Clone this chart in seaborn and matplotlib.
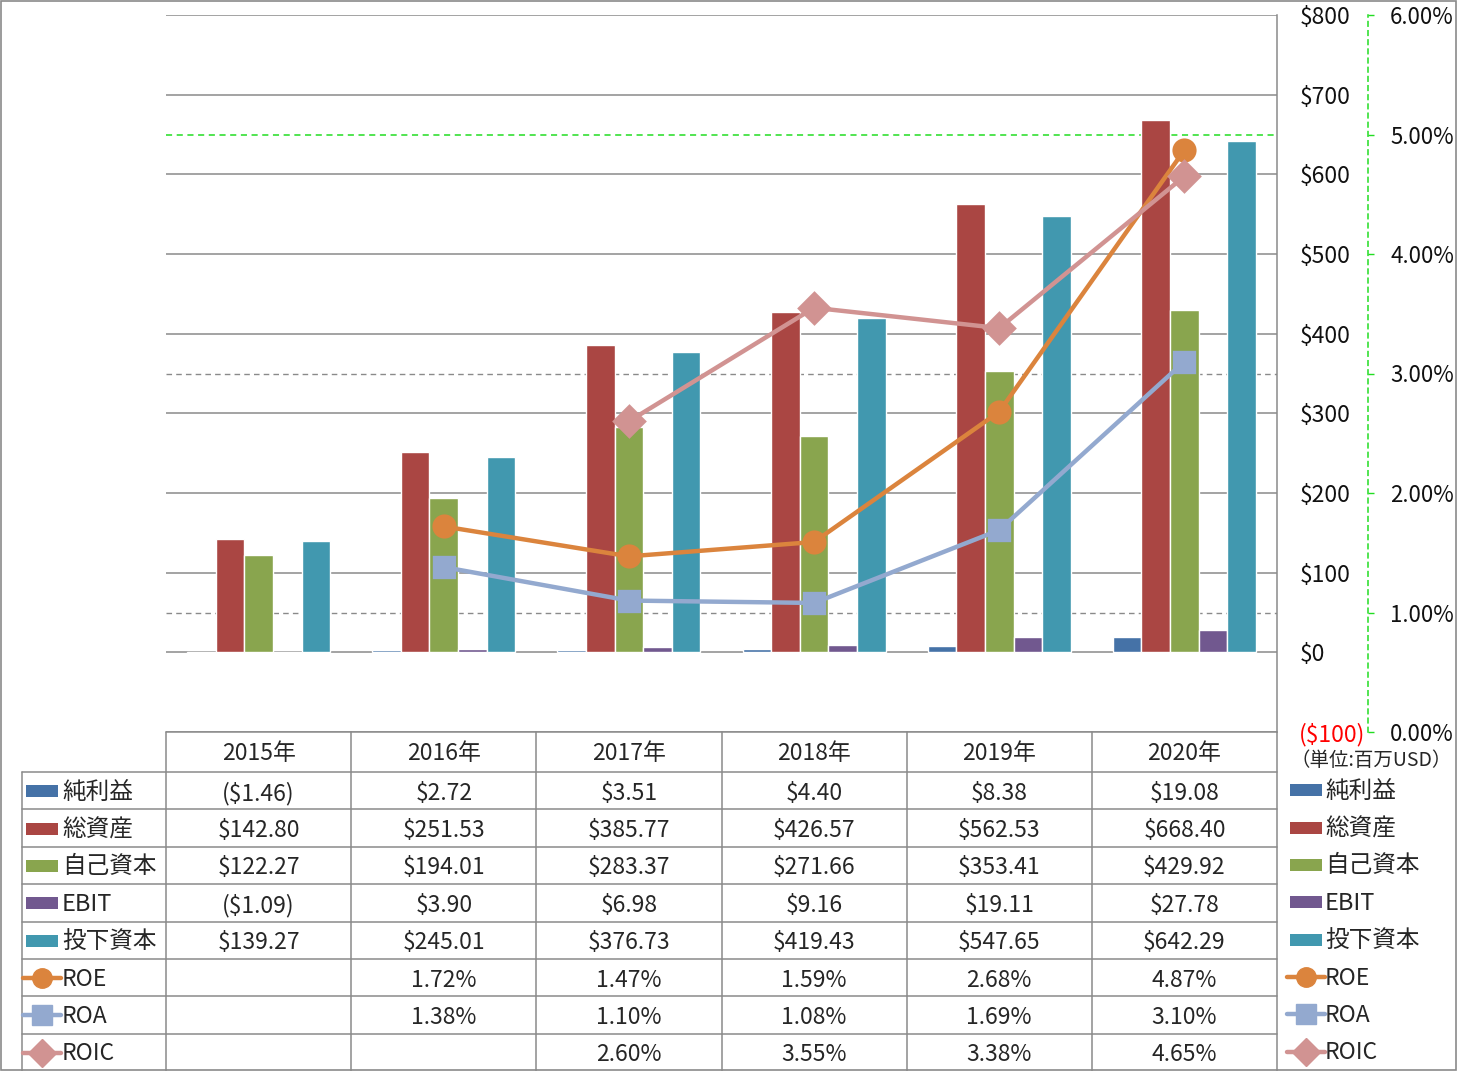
import numpy as np
import pandas as pd
import matplotlib
matplotlib.use("Agg")
import matplotlib.pyplot as plt
from matplotlib.patches import Rectangle
from matplotlib.lines import Line2D
import seaborn as sns

# ---------------- data ----------------
years = ["2015年", "2016年", "2017年", "2018年", "2019年", "2020年"]
bar_series = ["純利益", "総資産", "自己資本", "EBIT", "投下資本"]
net_income = [-1.46, 2.72, 3.51, 4.40, 8.38, 19.08]
total_assets = [142.80, 251.53, 385.77, 426.57, 562.53, 668.40]
equity = [122.27, 194.01, 283.37, 271.66, 353.41, 429.92]
ebit = [-1.09, 3.90, 6.98, 9.16, 19.11, 27.78]
invested_capital = [139.27, 245.01, 376.73, 419.43, 547.65, 642.29]

line_series = ["ROE", "ROA", "ROIC"]
roe = [np.nan, 1.72, 1.47, 1.59, 2.68, 4.87]
roa = [np.nan, 1.38, 1.10, 1.08, 1.69, 3.10]
roic = [np.nan, np.nan, 2.60, 3.55, 3.38, 4.65]

left_ticks = [-100, 0, 100, 200, 300, 400, 500, 600, 700, 800]
right_ticks = [0, 1, 2, 3, 4, 5, 6]
dashed_pct_lines = [1, 3]
target_pct_line = 5
unit_label = "（単位:百万USD）"

bar_colors = ["#4572A7", "#AA4643", "#89A54E", "#71588F", "#4198AF"]
line_colors = ["#DB843D", "#93A9CF", "#D19392"]
line_markers = ["o", "s", "D"]
marker_sizes = [15, 15, 15]

# ---------------- setup ----------------
sns.set_theme(style="white")
plt.rcParams["font.family"] = ["Noto Sans CJK JP", "DejaVu Sans"]
plt.rcParams["font.size"] = 16

NUM_FS = 16.5
JP_FS = 17

W, H = 1457, 1071
fig = plt.figure(figsize=(W / 100, H / 100), dpi=100)
fig.patch.set_facecolor("white")

plot_left, plot_right, plot_top, plot_bottom = 166, 1277, 15, 732
ax = fig.add_axes([plot_left / W, (H - plot_bottom) / H,
                   (plot_right - plot_left) / W, (plot_bottom - plot_top) / H])

bar_values = [net_income, total_assets, equity, ebit, invested_capital]
df_bars = pd.DataFrame({
    "year": [y for s in bar_series for y in years],
    "series": [s for s in bar_series for _ in years],
    "value": [v for vals in bar_values for v in vals],
})

sns.barplot(data=df_bars, x="year", y="value", hue="series", order=years,
            hue_order=bar_series, palette=bar_colors, width=0.773, gap=0,
            saturation=1, errorbar=None, legend=False, ax=ax, zorder=2)

ymin, ymax = left_ticks[0], left_ticks[-1]
pmin, pmax = right_ticks[0], right_ticks[-1]
ax.set_ylim(ymin, ymax)
ax.set_xlim(-0.5, len(years) - 0.5)


def pct_to_left(p):
    return ymin + (p - pmin) / (pmax - pmin) * (ymax - ymin)


grid_gray = "#8A8A8A"
green = "#22DD22"
for t in left_ticks:
    ax.axhline(t, color=grid_gray, lw=1.1, zorder=0.5)
for p in dashed_pct_lines:
    ax.axhline(pct_to_left(p), color=grid_gray, lw=1, ls=(0, (4, 3)), zorder=0.5)
ax.axhline(pct_to_left(target_pct_line), color=green, lw=1.1, ls=(0, (4, 3)), zorder=0.5)

ax.set_xticks([])
ax.set_xlabel("")
ax.set_ylabel("")
ax.patch.set_alpha(0)
ax.grid(False)

# secondary axis
ax2 = ax.twinx()
line_values = [roe, roa, roic]
for name, vals, col, mk, ms in zip(line_series, line_values, line_colors, line_markers, marker_sizes):
    d = pd.DataFrame({"year": years, "value": vals}).dropna()
    sns.pointplot(data=d, x="year", y="value", order=years, color=col,
                  marker=mk, markersize=ms, linewidth=3.2, errorbar=None,
                  ax=ax2, zorder=5)
ax2.set_ylim(pmin, pmax)
ax2.set_xlim(-0.5, len(years) - 0.5)
ax2.set_yticks(right_ticks)
ax2.set_yticklabels([f"{p:.2f}%" for p in right_ticks])
ax2.tick_params(axis="y", length=4, width=1, color=green, pad=12, labelsize=16,
                labelcolor="#111111", direction="out")
ax2.set_xticks([])
ax2.set_xlabel("")
ax2.set_ylabel("")
for s in ["left", "top", "bottom"]:
    ax2.spines[s].set_visible(False)
ax2.spines["right"].set_position(("outward", 65.5))
ax2.spines["right"].set_color(green)
ax2.spines["right"].set_linestyle((0, (3, 3)))
ax2.spines["right"].set_linewidth(1.1)
ax2.grid(False)

# primary axis labels on the right (after twinx, which resets to left)
ax.yaxis.tick_right()
ax.yaxis.set_label_position("right")
ax.set_yticks(left_ticks)
ax.set_yticklabels([f"${t:,}" if t >= 0 else f"(${-t:,})" for t in left_ticks])
ax.tick_params(axis="y", which="both", left=False, right=False, labelleft=False,
               labelright=True, length=0, pad=16, labelsize=NUM_FS, labelcolor="#111111")
for lbl, t in zip(ax.get_yticklabels(), left_ticks):
    if t < 0:
        lbl.set_color("#FF0000")
for s in ["left", "top", "bottom"]:
    ax.spines[s].set_visible(False)
ax.spines["right"].set_visible(True)
ax.spines["right"].set_color(grid_gray)
ax.spines["right"].set_linewidth(1.1)

# ---------------- table + legends (overlay in pixel coords) ----------------
tab = fig.add_axes([0, 0, 1, 1], zorder=10)
tab.set_xlim(0, W)
tab.set_ylim(H, 0)
tab.axis("off")
tab.patch.set_alpha(0)

tcol = "#8A8A8A"
col_edges = np.linspace(plot_left, plot_right, len(years) + 1)
label_left = 22
head_top, head_bot = plot_bottom, 772
n_rows = len(bar_series) + len(line_series)
row_edges = np.linspace(head_bot, H, n_rows + 1)
row_centers = (row_edges[:-1] + row_edges[1:]) / 2

tab.plot([plot_left, plot_right], [head_top, head_top], color=tcol, lw=1.1)
for y in row_edges[:-1]:
    tab.plot([label_left, plot_right], [y, y], color=tcol, lw=1.1)
tab.plot([label_left, label_left], [head_bot, H], color=tcol, lw=1.1)
for x in col_edges:
    tab.plot([x, x], [head_top, H], color=tcol, lw=1.1)

col_centers = (col_edges[:-1] + col_edges[1:]) / 2
for xc, yr in zip(col_centers, years):
    tab.text(xc, (head_top + head_bot) / 2 + 2, yr, ha="center", va="center", fontsize=NUM_FS)


def money(v):
    return f"${v:,.2f}" if v >= 0 else f"(${-v:,.2f})"


row_i = 0
for name, vals in zip(bar_series, bar_values):
    for xc, v in zip(col_centers, vals):
        tab.text(xc, row_centers[row_i] + 2.5, money(v), ha="center", va="center", fontsize=NUM_FS)
    row_i += 1
for name, vals in zip(line_series, line_values):
    for xc, v in zip(col_centers, vals):
        if not np.isnan(v):
            tab.text(xc, row_centers[row_i] + 2.5, f"{v:.2f}%", ha="center", va="center", fontsize=NUM_FS)
    row_i += 1


def draw_keys(x0, text_x, yoff):
    i = 0
    for name, col in zip(bar_series, bar_colors):
        yc = row_centers[i] + yoff
        tab.add_patch(Rectangle((x0 + 3, yc - 6), 32, 12, color=col, lw=0))
        tab.text(text_x, yc + 1, name, ha="left", va="center", fontsize=JP_FS)
        i += 1
    for name, col, mk in zip(line_series, line_colors, line_markers):
        yc = row_centers[i] + yoff
        tab.add_line(Line2D([x0, x0 + 38], [yc, yc], color=col, lw=3.2,
                            solid_capstyle="round"))
        tab.add_line(Line2D([x0 + 19], [yc], color=col, marker=mk, markersize=14,
                            markeredgecolor=col))
        tab.text(text_x, yc + 1, name, ha="left", va="center", fontsize=NUM_FS)
        i += 1


draw_keys(23, 62, 0.5)
draw_keys(1287, 1325, -0.5)

tab.text(1371, 760, unit_label, ha="center", va="center", fontsize=14)

tab.add_patch(Rectangle((0.5, 0.5), W - 1.5, H - 1.5, fill=False, ec=tcol, lw=1.2))

fig.savefig("out.png", dpi=100)
